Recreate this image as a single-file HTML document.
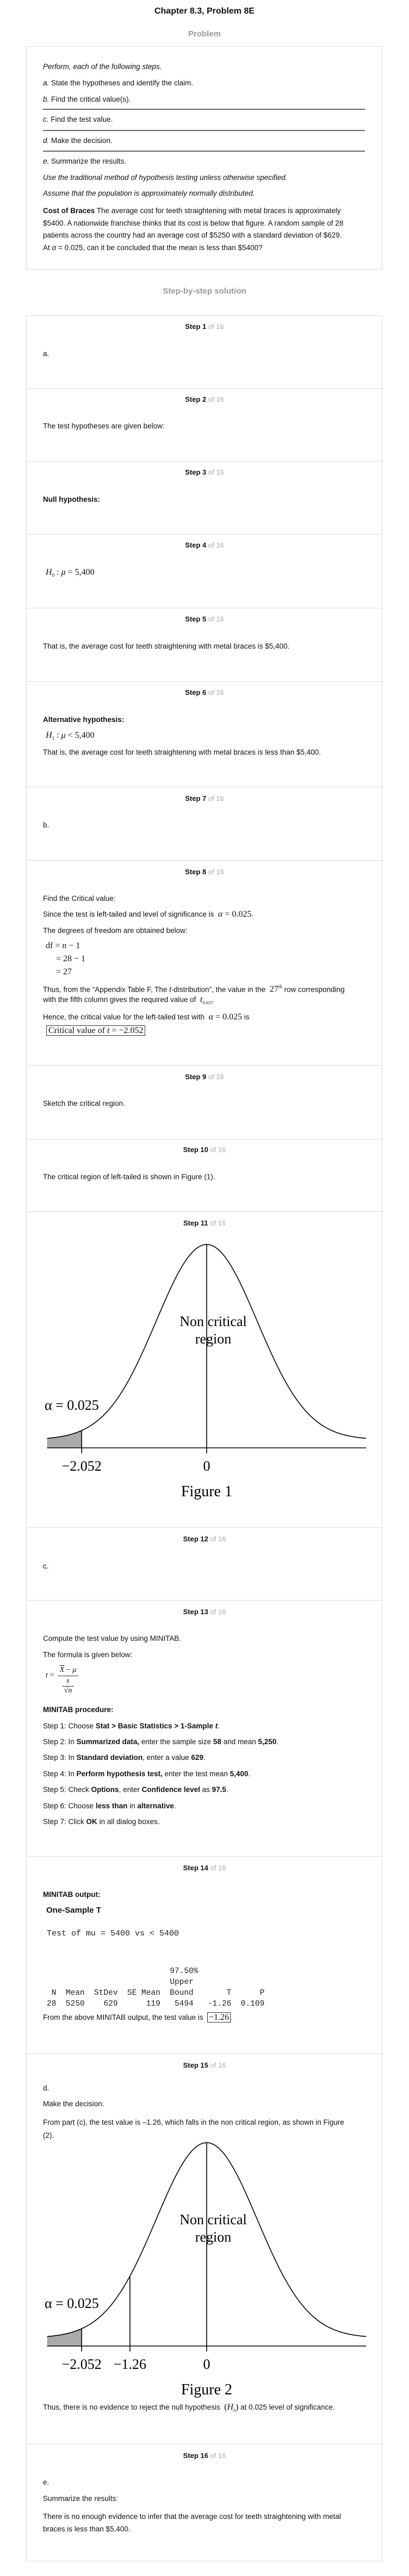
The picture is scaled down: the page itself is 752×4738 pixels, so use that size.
<!DOCTYPE html>
<html><head><meta charset="utf-8">
<style>
*{margin:0;padding:0;box-sizing:border-box}
body{width:752px;height:4738px;background:#fff;font-family:"Liberation Sans",Arial,sans-serif;color:#111;position:relative;overflow:hidden}
.a{position:absolute;white-space:nowrap;line-height:16px}
.t{position:absolute;left:79px;font-size:13.5px;line-height:16px;white-space:nowrap}
.box{position:absolute;left:48px;width:655px;border:1px solid #ddd}
.lbl{position:absolute;left:0;width:752px;text-align:center;font-size:13px;font-weight:bold;line-height:16px}
.lbl span{color:#aaa;font-weight:normal}
.m{font-family:"Liberation Serif",serif;font-size:16px}
.hr{position:absolute;left:79px;width:592px;height:2px;background:#666}
.mono{position:absolute;font-family:"Liberation Mono",monospace;font-size:15px;line-height:16px;white-space:pre;color:#222}
b{font-weight:bold}
</style></head><body>
<div class="a" style="left:0;width:752px;text-align:center;top:13px;font-size:16px;font-weight:bold">Chapter 8.3, Problem 8E</div>
<div class="a" style="left:0;width:752px;text-align:center;top:55px;font-size:15px;font-weight:bold;color:#999">Problem</div>
<div class="box" style="top:85px;height:411px"></div>
<div class="t" style="top:115px;font-style:italic">Perform, each of the following steps.</div>
<div class="t" style="top:145px"><i>a.</i> State the hypotheses and identify the claim.</div>
<div class="t" style="top:175px"><i>b.</i> Find the critical value(s).</div>
<div class="hr" style="top:200px"></div>
<div class="t" style="top:212px"><i>c.</i> Find the test value.</div>
<div class="hr" style="top:239px"></div>
<div class="t" style="top:251px"><i>d.</i> Make the decision.</div>
<div class="hr" style="top:277px"></div>
<div class="t" style="top:289px"><i>e.</i> Summarize the results.</div>
<div class="t" style="top:319px;font-style:italic">Use the traditional method of hypothesis testing unless otherwise specified.</div>
<div class="t" style="top:348px;font-style:italic">Assume that the population is approximately normally distributed.</div>
<div class="t" style="top:377px;line-height:22.5px"><b>Cost of Braces</b> The average cost for teeth straightening with metal braces is approximately<br>$5400. A nationwide franchise thinks that its cost is below that figure. A random sample of 28<br>patients across the country had an average cost of $5250 with a standard deviation of $629.<br>At <i>α</i> = 0.025, can it be concluded that the mean is less than $5400?</div>
<div class="a" style="left:0;width:752px;text-align:center;top:528px;font-size:15px;font-weight:bold;color:#999">Step-by-step solution</div>

<!-- step boxes -->
<div class="box" style="top:580px;height:135px"></div>
<div class="box" style="top:714px;height:135px"></div>
<div class="box" style="top:848px;height:135px"></div>
<div class="box" style="top:982px;height:137px"></div>
<div class="box" style="top:1118px;height:136px"></div>
<div class="box" style="top:1253px;height:195px"></div>
<div class="box" style="top:1447px;height:136px"></div>
<div class="box" style="top:1582px;height:378px"></div>
<div class="box" style="top:1959px;height:137px"></div>
<div class="box" style="top:2095px;height:134px"></div>
<div class="box" style="top:2228px;height:582px"></div>
<div class="box" style="top:2809px;height:135px"></div>
<div class="box" style="top:2943px;height:472px"></div>
<div class="box" style="top:3414px;height:364px"></div>
<div class="box" style="top:3777px;height:719px"></div>
<div class="box" style="top:4495px;height:216px"></div>

<div class="lbl" style="top:593px">Step 1 <span>of 16</span></div>
<div class="lbl" style="top:727px">Step 2 <span>of 16</span></div>
<div class="lbl" style="top:861px">Step 3 <span>of 16</span></div>
<div class="lbl" style="top:995px">Step 4 <span>of 16</span></div>
<div class="lbl" style="top:1131px">Step 5 <span>of 16</span></div>
<div class="lbl" style="top:1266px">Step 6 <span>of 16</span></div>
<div class="lbl" style="top:1461px">Step 7 <span>of 16</span></div>
<div class="lbl" style="top:1596px">Step 8 <span>of 16</span></div>
<div class="lbl" style="top:1973px">Step 9 <span>of 16</span></div>
<div class="lbl" style="top:2107px">Step 10 <span>of 16</span></div>
<div class="lbl" style="top:2242px">Step 11 <span>of 16</span></div>
<div class="lbl" style="top:2823px">Step 12 <span>of 16</span></div>
<div class="lbl" style="top:2957px">Step 13 <span>of 16</span></div>
<div class="lbl" style="top:3428px">Step 14 <span>of 16</span></div>
<div class="lbl" style="top:3791px">Step 15 <span>of 16</span></div>
<div class="lbl" style="top:4509px">Step 16 <span>of 16</span></div>

<div class="t" style="top:643px">a.</div>
<div class="t" style="top:776px">The test hypotheses are given below:</div>
<div class="t" style="top:911px;font-weight:bold">Null hypothesis:</div>
<div class="t m" style="top:1045px;left:84px"><i>H</i><sub style="font-size:9px">0</sub> : <i>μ</i> = 5,400</div>
<div class="t" style="top:1181px">That is, the average cost for teeth straightening with metal braces is $5,400.</div>
<div class="t" style="top:1316px;font-weight:bold">Alternative hypothesis:</div>
<div class="t m" style="top:1345px;left:84px"><i>H</i><sub style="font-size:9px">1</sub> : <i>μ</i> &lt; 5,400</div>
<div class="t" style="top:1376px">That is, the average cost for teeth straightening with metal braces is less than $5,400.</div>
<div class="t" style="top:1510px">b.</div>
<div class="t" style="top:1645px">Find the Critical value:</div>
<div class="t" style="top:1674px">Since the test is left-tailed and level of significance is &nbsp;<span class="m"><i>α</i> = 0.025</span>.</div>
<div class="t" style="top:1704px">The degrees of freedom are obtained below:</div>
<div class="t m" style="top:1732px;left:84px">df = <i>n</i> − 1</div>
<div class="t m" style="top:1756px;left:103px">= 28 − 1</div>
<div class="t m" style="top:1780px;left:103px">= 27</div>
<div class="t" style="top:1807px">Thus, from the “Appendix Table F, The <i>t</i>-distribution”, the value in the &nbsp;<span class="m">27<sup style="font-size:9px">th</sup></span> row corresponding</div>
<div class="t" style="top:1831px">with the fifth column gives the required value of &nbsp;<span class="m"><i>t</i><sub style="font-size:8px">0.025</sub></span>.</div>
<div class="t" style="top:1863px">Hence, the critical value for the left-tailed test with &nbsp;<span class="m"><i>α</i> = 0.025</span> is</div>
<div class="t m" style="top:1886px;left:85px;border:1px solid #333;padding:0 3px;line-height:17px">Critical value of <i>t</i> = −2.052</div>
<div class="t" style="top:2022px">Sketch the critical region.</div>
<div class="t" style="top:2157px">The critical region of left-tailed is shown in Figure (1).</div>

<svg id="fig1" style="position:absolute;left:0;top:2279px" width="752" height="500"></svg>

<div class="t" style="top:2873px">c.</div>
<div class="t" style="top:3006px">Compute the test value by using MINITAB.</div>
<div class="t" style="top:3036px">The formula is given below:</div>
<div class="a m" style="left:84px;top:3065px;font-size:14px;line-height:14px">
 <span style="position:absolute;left:0;top:10px"><i>t</i> =</span>
 <span style="position:absolute;left:22px;top:0;width:38px;text-align:center"><i style="text-decoration:overline">X</i> − <i>μ</i></span>
 <span style="position:absolute;left:22px;top:17px;width:38px;height:1px;background:#333"></span>
 <span style="position:absolute;left:22px;top:20px;width:38px;text-align:center"><i>s</i></span>
 <span style="position:absolute;left:30px;top:36px;width:22px;height:1px;background:#333"></span>
 <span style="position:absolute;left:30px;top:38px;width:22px;text-align:center">√<i>n</i></span>
</div>
<div class="t" style="top:3137px;font-weight:bold">MINITAB procedure:</div>
<div class="t" style="top:3167px">Step 1: Choose <b>Stat &gt; Basic Statistics &gt; 1-Sample <i>t</i></b>.</div>
<div class="t" style="top:3196px">Step 2: In <b>Summarized data,</b> enter the sample size <b>58</b> and mean <b>5,250</b>.</div>
<div class="t" style="top:3225px">Step 3: In <b>Standard deviation</b>, enter a value <b>629</b>.</div>
<div class="t" style="top:3255px">Step 4: In <b>Perform hypothesis test,</b> enter the test mean <b>5,400</b>.</div>
<div class="t" style="top:3284px">Step 5: Check <b>Options</b>, enter <b>Confidence level</b> as <b>97.5</b>.</div>
<div class="t" style="top:3314px">Step 6: Choose <b>less than</b> in <b>alternative</b>.</div>
<div class="t" style="top:3343px">Step 7: Click <b>OK</b> in all dialog boxes.</div>

<div class="t" style="top:3477px;font-weight:bold">MINITAB output:</div>
<div class="a" style="left:85px;top:3506px;font-size:15px;font-weight:bold">One-Sample T</div>
<div class="mono" style="left:86px;top:3549px">Test of mu = 5400 vs &lt; 5400</div>
<div class="mono" style="left:86px;top:3616px;line-height:20px;font-size:14.5px">                          97.50%
                          Upper
 N  Mean  StDev  SE Mean  Bound       T      P
28  5250    629      119   5494   -1.26  0.109</div>
<div class="t" style="top:3703px">From the above MINITAB output, the test value is &nbsp;<span class="m" style="border:1px solid #333;padding:0 2px">−1.26</span>.</div>

<div class="t" style="top:3833px">d.</div>
<div class="t" style="top:3862px">Make the decision.</div>
<div class="t" style="top:3892px;line-height:24px">From part (c), the test value is –1.26, which falls in the non critical region, as shown in Figure<br>(2).</div>

<svg id="fig2" style="position:absolute;left:0;top:3931px" width="752" height="500"></svg>

<div class="t" style="top:4420px">Thus, there is no evidence to reject the null hypothesis &nbsp;<span class="m">(<i>H</i><sub style="font-size:8px">0</sub>)</span> at 0.025 level of significance.</div>
<div class="t" style="top:4558px">e.</div>
<div class="t" style="top:4588px">Summarize the results:</div>
<div class="t" style="top:4617px;line-height:23px">There is no enough evidence to infer that the average cost for teeth straightening with metal<br>braces is less than $5,400.</div>

<script>
const criticalValue = -2.052;
const testValue = -1.26;
const fig1Ticks = [-2.052, 0];
const fig1TickLabels = ["\u22122.052", "0"];
const fig2Ticks = [-2.052, -1.26, 0];
const fig2TickLabels = ["\u22122.052", "\u22121.26", "0"];
const alphaLabel = "\u03B1 = 0.025";
const domainMin = -2.62, domainMax = 2.62;

const NS = "http://www.w3.org/2000/svg";
const cx = 380, pxPerUnit = 112, peakY = 10, axisY = 384;
function xs(v){ return cx + v * pxPerUnit; }
function ys(v){ const d = v * pxPerUnit; return axisY - 15 - 359 * Math.exp(-d*d/(2*93*93)); }
function mk(svg, tag, attrs){ const e = document.createElementNS(NS, tag); for (const k in attrs) e.setAttribute(k, attrs[k]); svg.appendChild(e); return e; }

function drawFig(id, ticks, labels, caption, showTest){
  const svg = document.getElementById(id);
  // shaded region
  let d = "M" + xs(domainMin) + "," + axisY;
  for (let v = domainMin; v <= criticalValue; v += 0.02) d += " L" + xs(v).toFixed(1) + "," + ys(v).toFixed(1);
  d += " L" + xs(criticalValue) + "," + ys(criticalValue).toFixed(1) + " L" + xs(criticalValue) + "," + axisY + " Z";
  const sh = mk(svg, "path", {d: d, fill: "#aaa", stroke: "none"});
  
  
  // curve
  let c = "";
  for (let v = domainMin; v <= domainMax + 1e-9; v += 0.02) c += (c ? " L" : "M") + xs(v).toFixed(1) + "," + ys(v).toFixed(1);
  const cu = mk(svg, "path", {d: c, fill: "none", stroke: "#000", "stroke-width": 1.6});
  
  
  // axis
  const ax = mk(svg, "line", {x1: xs(domainMin), x2: xs(domainMax), y1: axisY, y2: axisY, stroke: "#000", "stroke-width": 1.6});
  
  
  // ticks & vertical lines
  ticks.forEach((t, i) => {
    const ln = mk(svg, "line", {x1: xs(t), x2: xs(t), y1: ys(t), y2: axisY + 10, stroke: "#000", "stroke-width": 1.6});
    
    
    const tx = mk(svg, "text", {x: xs(t), y: axisY + 42, "text-anchor": "middle", "font-family": "Liberation Serif, serif", "font-size": 26});
    tx.textContent = labels[i];
    
    
  });
  const al = mk(svg, "text", {x: 82, y: axisY - 70, "font-family": "Liberation Serif, serif", "font-size": 26});
  al.textContent = alphaLabel;
  
  
  const n1 = mk(svg, "text", {x: 392, y: peakY + 150, "text-anchor": "middle", "font-family": "Liberation Serif, serif", "font-size": 26});
  n1.textContent = "Non critical";
  
  
  const n2 = mk(svg, "text", {x: 392, y: peakY + 182, "text-anchor": "middle", "font-family": "Liberation Serif, serif", "font-size": 26});
  n2.textContent = "region";
  
  
  const cap = mk(svg, "text", {x: 380, y: axisY + 89, "text-anchor": "middle", "font-family": "Liberation Serif, serif", "font-size": 28});
  cap.textContent = caption;
  
  
}
drawFig("fig1", fig1Ticks, fig1TickLabels, "Figure 1", false);
drawFig("fig2", fig2Ticks, fig2TickLabels, "Figure 2", true);
</script>
</body></html>
